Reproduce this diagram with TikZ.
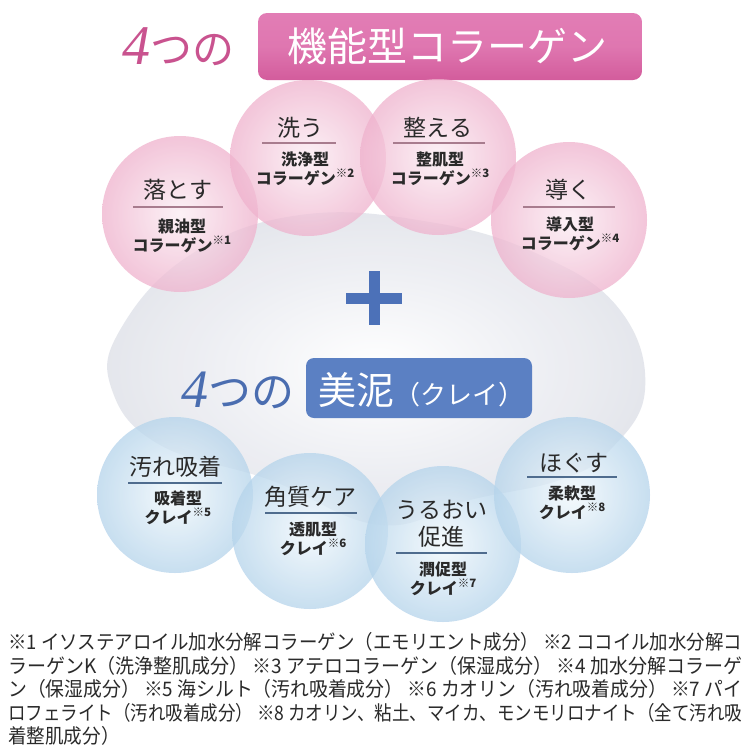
\documentclass[tikz,border=0pt]{standalone}
\usepackage{fontspec}
\usepackage{graphicx}
\newfontfamily\jp{Noto Sans CJK JP}
\newfontfamily\lserif{Liberation Serif}
\usetikzlibrary{shapes.geometric}
\definecolor{pinkbox}{HTML}{D35C9C}
\definecolor{pinkboxlt}{HTML}{E27DB5}
\definecolor{pinktxt}{HTML}{C9538F}
\definecolor{pinkedge}{HTML}{EFB2CD}
\definecolor{pinkcen}{HTML}{FBEDF3}
\definecolor{pinkline}{HTML}{A87C8E}
\definecolor{bluebox}{HTML}{5B80C3}
\definecolor{bluetxt}{HTML}{4A6DB0}
\definecolor{blueedge}{HTML}{B5D4EB}
\definecolor{bluecen}{HTML}{F1F8FC}
\definecolor{blueline}{HTML}{4F6C8E}
\definecolor{plusblue}{HTML}{4C71B8}
\definecolor{txt}{HTML}{2A2A2A}
\definecolor{foam}{HTML}{E3E5EC}
\newcommand{\kome}[1]{\raisebox{0.45em}{\fontsize{11.5}{11.5}\selectfont ※#1}}
\newcommand{\fitline}[1]{\resizebox{734pt}{\height}{#1}}
\tikzset{
  pinkball/.style={circle, minimum size=156pt, inner sep=0pt, shading=radial, inner color=pinkcen, outer color=pinkedge, opacity=0.75},
  blueball/.style={circle, minimum size=156pt, inner sep=0pt, shading=radial, inner color=bluecen, outer color=blueedge, opacity=0.75},
  ttl/.style={font=\jp\fontsize{23}{25}\selectfont, text=txt, inner sep=0pt},
  sub/.style={font=\jp\bfseries\fontsize{16}{19}\selectfont, text=txt, align=center, inner sep=0pt},
  pline/.style={draw=pinkline, line width=1.4pt},
  bline/.style={draw=blueline, line width=1.4pt},
  fn/.style={font=\jp\fontsize{20}{20}\selectfont, text=txt, anchor=west, inner sep=0pt},
}
\begin{document}
\begin{tikzpicture}[x=1pt,y=-1pt]
\useasboundingbox (0,0) rectangle (750,750);
\fill[white] (0,0) rectangle (750,750);
% foam background
\shade[inner color=white, outer color=foam, opacity=0.95] plot[smooth cycle, tension=0.7] coordinates {(120,330) (190,255) (300,215) (430,222) (540,255) (620,310) (645,390) (610,450) (560,480) (470,500) (380,525) (270,480) (160,445) (112,390)};
% top heading
\node[inner sep=0pt, anchor=west, text=pinktxt] (p4) at (122,47) {{\lserif\itshape\fontsize{56}{56}\selectfont 4}{\jp\fontsize{42}{42}\selectfont つの}};
\node[draw=none, rounded corners=9pt, minimum width=384pt, minimum height=67pt, top color=pinkboxlt, bottom color=pinkbox, middle color=pinkboxlt!80!pinkbox] (pbox) at (450,46.5) {};
\node[text=white, font=\jp\fontsize{40}{40}\selectfont, inner sep=0pt] (ptitle) at (447,46) {機能型コラーゲン};
% pink balls
\node[pinkball] (c1) at (180,214) {};
\node[pinkball] (c2) at (308,158) {};
\node[pinkball] (c3) at (438,157) {};
\node[pinkball] (c4) at (569,220) {};
% texts pink
\node[ttl] (t1) at (178,190) {落とす};
\draw[pline] (133,207) -- (223,207);
\node[sub] (s1) at (182,236) {親油型\\コラーゲン\kome{1}};
\node[ttl] (t2) at (300,128) {洗う};
\draw[pline] (262,143) -- (336,143);
\node[sub] (s2) at (305,169) {洗浄型\\コラーゲン\kome{2}};
\node[ttl] (t3) at (438,128) {整える};
\draw[pline] (393,143) -- (485,143);
\node[sub] (s3) at (440,169) {整肌型\\コラーゲン\kome{3}};
\node[ttl] (t4) at (568,190) {導く};
\draw[pline] (523,207) -- (615,207);
\node[sub] (s4) at (570,234) {導入型\\コラーゲン\kome{4}};
% plus
\fill[plusblue] (346,292.5) rectangle (402,303.5);
\fill[plusblue] (368.5,271) rectangle (380,325);
% blue heading
\node[inner sep=0pt, anchor=west, text=bluetxt] (b4) at (181,390) {{\lserif\itshape\fontsize{54}{54}\selectfont 4}{\jp\fontsize{43}{43}\selectfont つの}};
\node[fill=bluebox, rounded corners=8pt, minimum width=226pt, minimum height=60pt] (bbox) at (419,388) {};
\node[text=white, inner sep=0pt, anchor=west] (btitle) at (318,390) {{\jp\fontsize{38}{38}\selectfont 美泥}{\jp\fontsize{26}{26}\selectfont （クレイ）}};
% blue balls
\node[blueball] (d1) at (175,495) {};
\node[blueball] (d2) at (310,531) {};
\node[blueball] (d3) at (443,544) {};
\node[blueball] (d4) at (572,495) {};
\node[ttl] (u1) at (175,467) {汚れ吸着};
\draw[bline] (128,483) -- (222,483);
\node[sub] (v1) at (178,508) {吸着型\\クレイ\kome{5}};
\node[ttl] (u2) at (310,497) {角質ケア};
\draw[bline] (265,513) -- (357,513);
\node[sub] (v2) at (313,539) {透肌型\\クレイ\kome{6}};
\node[ttl, align=center, font=\jp\fontsize{23}{27}\selectfont] (u3) at (441,524) {うるおい\\促進};
\draw[bline] (396,553) -- (487,553);
\node[sub] (v3) at (443,579) {潤促型\\クレイ\kome{7}};
\node[ttl] (u4) at (574,463) {ほぐす};
\draw[bline] (527,477) -- (617,477);
\node[sub] (v4) at (572,503) {柔軟型\\クレイ\kome{8}};
% footnotes
\node[fn] (f1) at (8,642) {\fitline{※1 イソステアロイル加水分解コラーゲン（エモリエント成分） ※2 ココイル加水分解コ}};
\node[fn] (f2) at (8,666) {\fitline{ラーゲンK（洗浄整肌成分） ※3 アテロコラーゲン（保湿成分） ※4 加水分解コラーゲ}};
\node[fn] (f3) at (8,689) {\fitline{ン（保湿成分） ※5 海シルト（汚れ吸着成分） ※6 カオリン（汚れ吸着成分） ※7 パイ}};
\node[fn] (f4) at (8,713) {\fitline{ロフェライト（汚れ吸着成分） ※8 カオリン、粘土、マイカ、モンモリロナイト（全て汚れ吸}};
\node[fn] (f5) at (8,736) {\scalebox{0.93}[1]{着整肌成分）}};
\end{tikzpicture}
\end{document}
